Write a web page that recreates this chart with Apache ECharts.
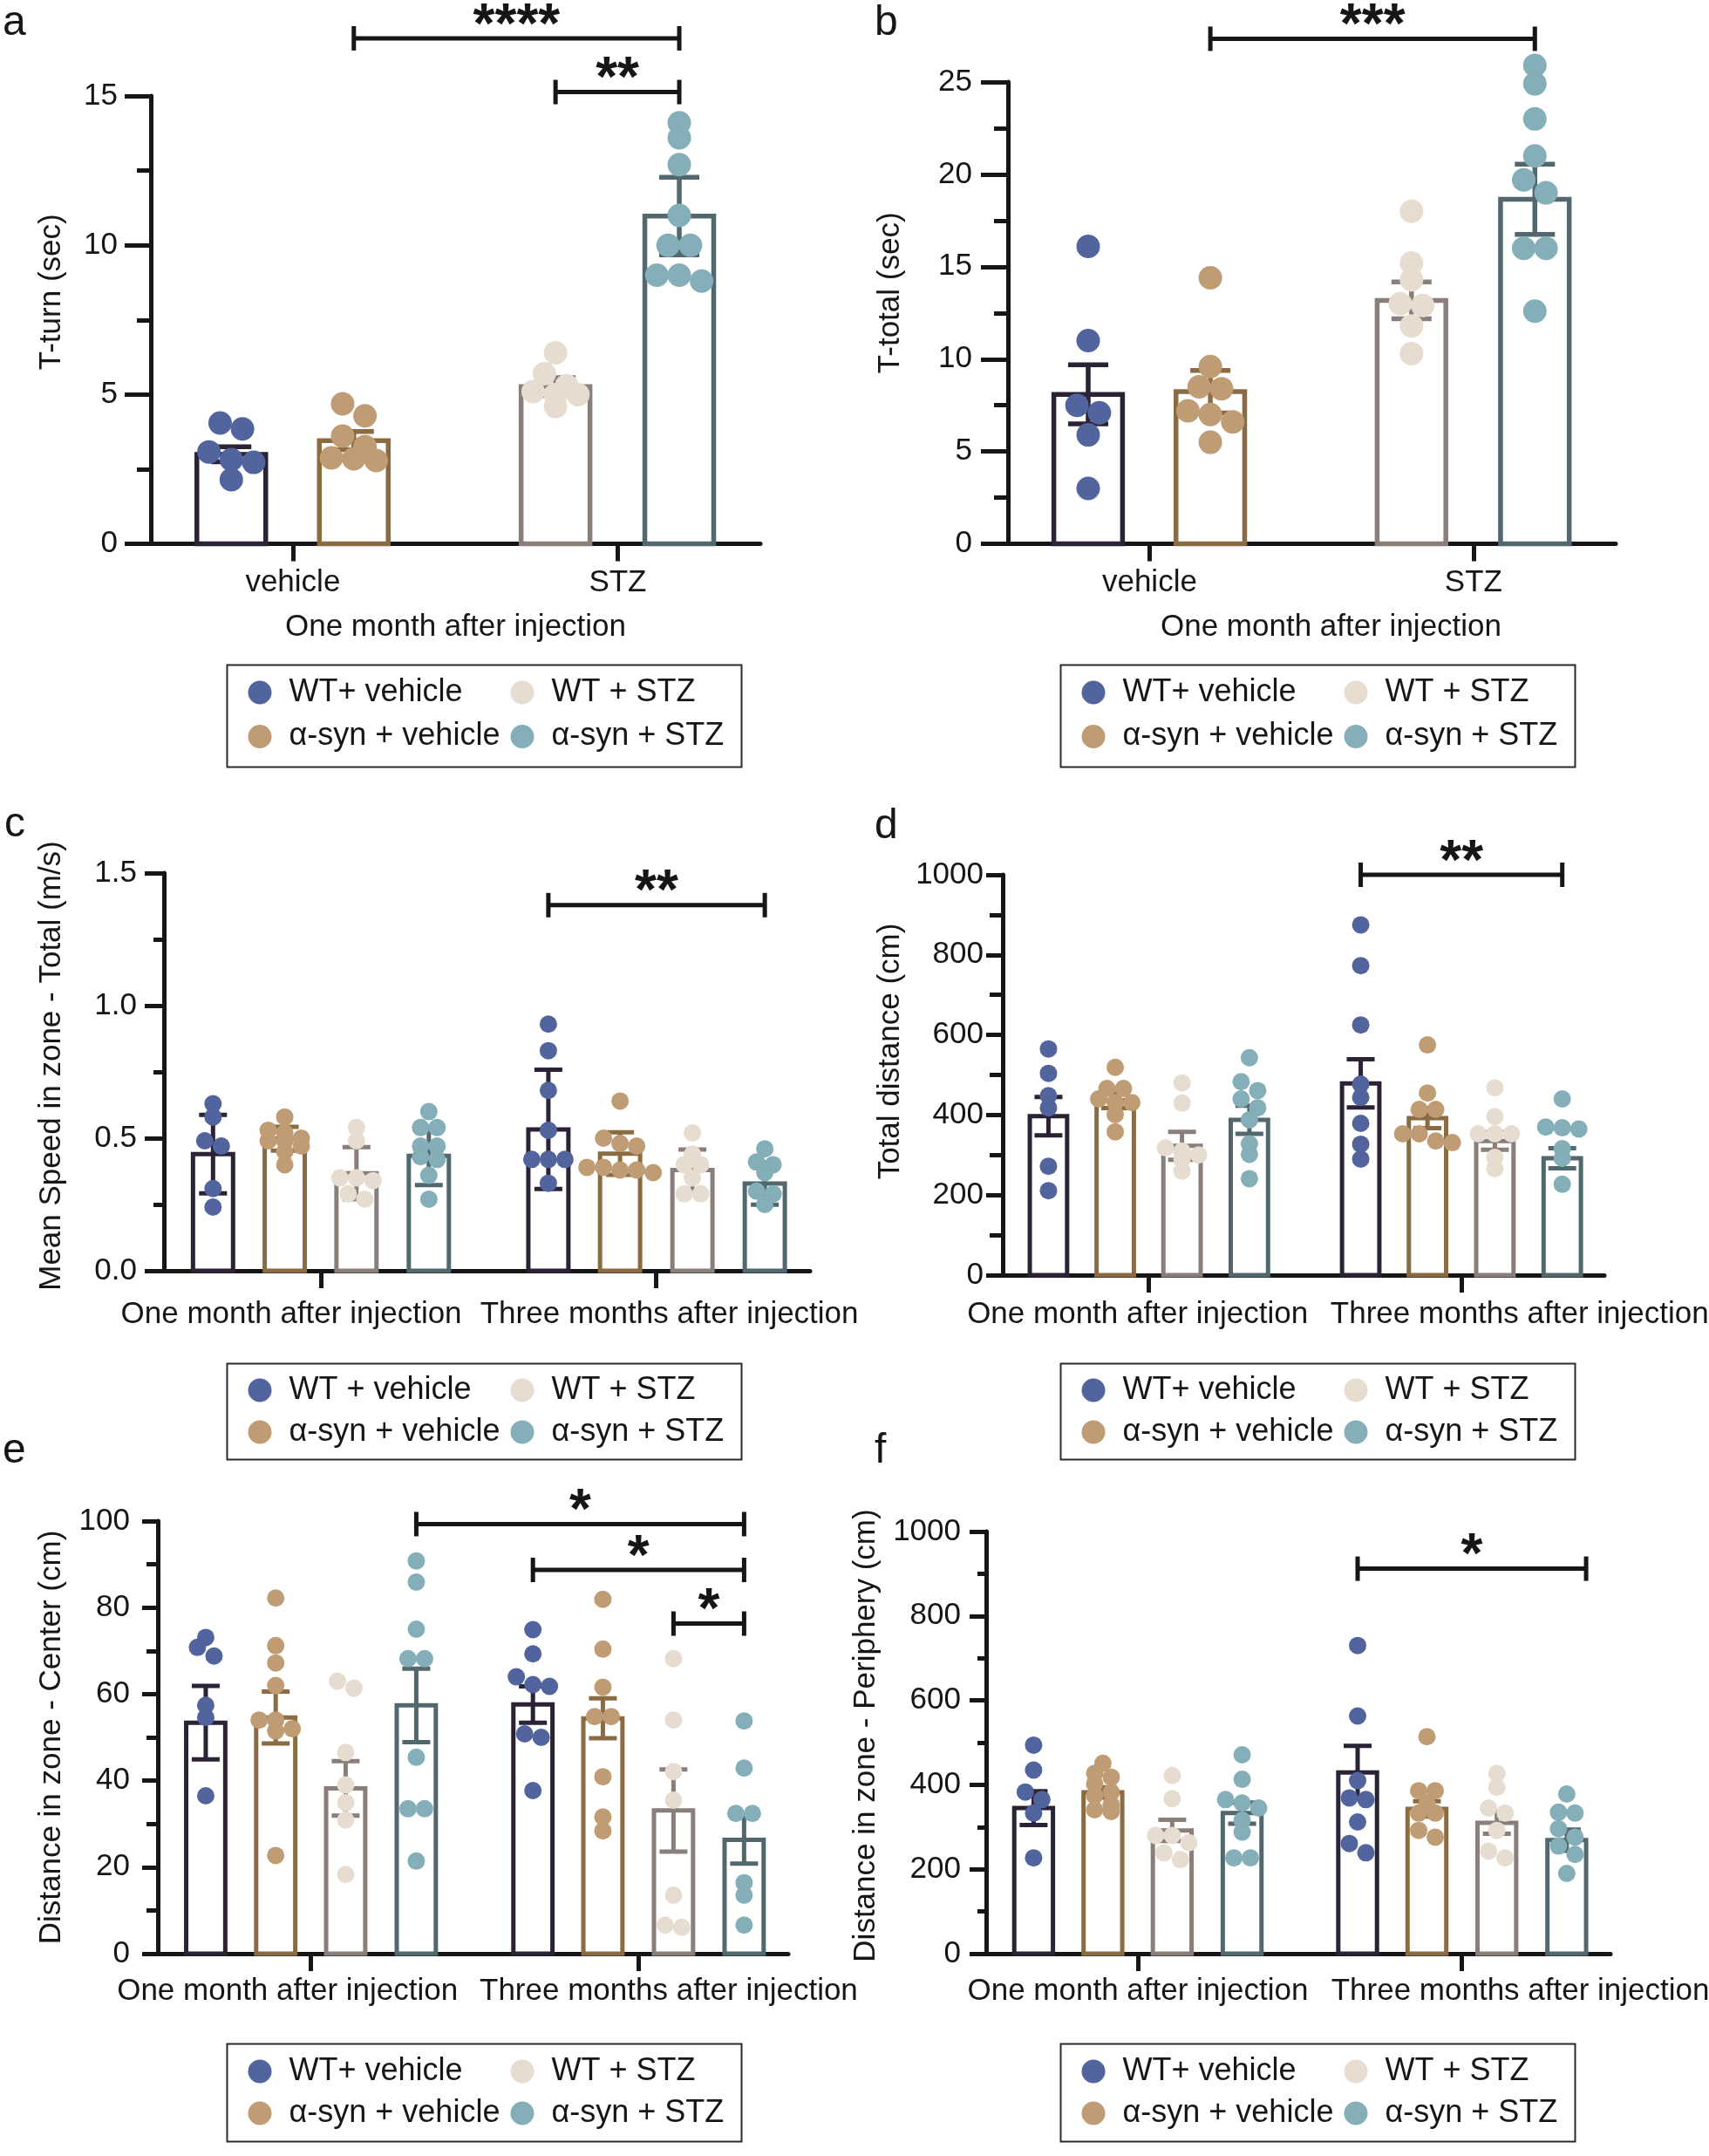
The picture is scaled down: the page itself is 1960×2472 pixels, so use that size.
<!DOCTYPE html>
<html><head><meta charset="utf-8">
<script src="https://cdn.jsdelivr.net/npm/echarts@6/dist/echarts.min.js"></script>
<style>html,body{margin:0;padding:0;background:#fff}#chart{width:1960px;height:2472px}</style>
</head><body><div id="chart"></div>
<script>
// ================= DATA =================
const groupNames  = ['WT+ vehicle', 'α-syn + vehicle', 'WT + STZ', 'α-syn + STZ'];
const groupNamesC = ['WT + vehicle', 'α-syn + vehicle', 'WT + STZ', 'α-syn + STZ'];
const abCategories = ['vehicle', 'STZ'];
const cfCategories = ['One month after injection', 'Three months after injection'];

// ---- a : T-turn (sec) ----
const aMean = [3.0, 3.46, 5.27, 10.98];
const aSEM  = [0.25, 0.3, 0.3, 1.3];
const aPoints = [
  [4.05, 3.85, 3.08, 2.73, 2.82, 2.15],
  [4.69, 4.29, 3.61, 3.26, 2.85, 2.88, 2.79],
  [6.4, 5.7, 5.3, 5.1, 5.0, 5.0, 4.6],
  [14.1, 13.6, 12.7, 11.0, 10.0, 10.0, 9.0, 8.8, 9.0]
];
const aBrackets = [[1, 3, 16.93], [2, 3, 15.13]];
const aStars = ['****', '**'];

// ---- b : T-total (sec) ----
const bMean = [8.09, 8.24, 13.18, 18.65];
const bSEM  = [1.6, 1.15, 1.0, 1.9];
const bPoints = [
  [16.1, 11.0, 7.1, 7.5, 5.9, 3.0],
  [14.4, 9.6, 8.5, 8.4, 7.2, 7.0, 6.6, 5.5],
  [18.0, 15.2, 14.3, 12.9, 13.0, 11.8, 10.3],
  [25.9, 24.9, 23.0, 21.0, 19.0, 19.7, 16.0, 16.0, 12.6]
];
const bBrackets = [[1, 3, 27.34]];
const bStars = ['***'];

// ---- c : Mean speed (m/s) ----
const cMeanOne = [0.44, 0.498, 0.368, 0.433];
const cErrOne  = [0.148, 0.045, 0.098, 0.11];
const cPointsOne = [
  [0.63, 0.58, 0.49, 0.47, 0.31, 0.24],
  [0.58, 0.53, 0.52, 0.50, 0.49, 0.49, 0.47, 0.45, 0.40],
  [0.54, 0.49, 0.35, 0.35, 0.34, 0.29, 0.27],
  [0.60, 0.54, 0.54, 0.47, 0.47, 0.43, 0.42, 0.36, 0.27]
];
const cMeanThree = [0.533, 0.442, 0.38, 0.329];
const cErrThree  = [0.225, 0.08, 0.077, 0.08];
const cPointsThree = [
  [0.93, 0.83, 0.68, 0.53, 0.42, 0.42, 0.42, 0.33],
  [0.64, 0.50, 0.48, 0.47, 0.39, 0.38, 0.38, 0.37, 0.39],
  [0.52, 0.44, 0.40, 0.40, 0.35, 0.29, 0.29],
  [0.46, 0.40, 0.41, 0.37, 0.30, 0.25, 0.29]
];
const cBrackets = [[4, 7, 1.379]];
const cStars = ['**'];

// ---- d : Total distance (cm) ----
const dMeanOne = [397, 437, 323, 388];
const dErrOne  = [48, 20, 35, 35];
const dPointsOne = [
  [565, 504, 448, 418, 272, 211],
  [519, 466, 466, 440, 431, 431, 401, 358],
  [480, 430, 318, 310, 300, 290, 260],
  [543, 483, 461, 440, 418, 388, 328, 302, 241]
];
const dMeanThree = [479, 392, 335, 292];
const dErrThree  = [60, 25, 22, 25];
const dPointsThree = [
  [875, 773, 625, 477, 444, 379, 327, 290],
  [575, 455, 414, 414, 353, 335, 331, 353],
  [468, 396, 353, 353, 353, 294, 266],
  [440, 370, 368, 365, 316, 292, 227]
];
const dBrackets = [[4, 7, 1000]];
const dStars = ['**'];

// ---- e : Distance in zone - Center (cm) ----
const eMeanOne = [53.4, 54.6, 38.2, 57.4];
const eErrOne  = [8.5, 6.0, 6.3, 8.5];
const ePointsOne = [
  [73.1, 68.8, 70.8, 57.4, 54.6, 36.5],
  [82.2, 71.2, 67.2, 62.0, 54.0, 54.0, 52.0, 51.5, 22.7],
  [61.4, 63.0, 46.5, 39.0, 34.9, 30.9, 18.3],
  [90.8, 85.9, 75.0, 68.2, 68.2, 45.4, 33.5, 33.5, 21.4]
];
const eMeanThree = [57.6, 54.4, 33.1, 26.3];
const eErrThree  = [4.2, 4.6, 9.5, 5.5];
const ePointsThree = [
  [74.9, 69.3, 64.0, 62.2, 61.8, 50.0, 50.8, 37.7],
  [81.9, 70.4, 61.6, 54.8, 54.8, 40.9, 31.6, 28.4],
  [68.2, 54.0, 42.1, 35.5, 13.5, 6.1, 6.6],
  [53.8, 42.9, 32.4, 32.4, 16.4, 13.5, 6.6]
];
const eBrackets = [[3, 7, 99.3], [4, 7, 88.7], [6, 7, 76.3]];
const eStars = ['*', '*', '*'];

// ---- f : Distance in zone - Periphery (cm) ----
const fMeanOne = [345, 382, 292, 333];
const fErrOne  = [40, 12, 25, 25];
const fPointsOne = [
  [494, 435, 383, 365, 333, 227],
  [451, 427, 418, 402, 382, 374, 353, 337, 341],
  [422, 367, 280, 280, 263, 239, 223],
  [471, 413, 357, 365, 345, 316, 288, 227, 227]
];
const fMeanThree = [429, 343, 310, 269];
const fErrThree  = [63, 18, 26, 25];
const fPointsThree = [
  [730, 563, 410, 369, 365, 312, 261, 239],
  [514, 386, 386, 357, 333, 333, 276, 292],
  [427, 394, 345, 333, 292, 227, 243],
  [378, 333, 335, 296, 276, 255, 235, 190]
];
const fBrackets = [[4, 7, 912]];
const fStars = ['*'];

// ================= STYLE / LAYOUT =================
const FONT = '"Liberation Sans", Arial, Helvetica, sans-serif';
const FS = 35;
const INK = '#161616';
const DOT  = ['#52649e', '#c09c74', '#e6dcd0', '#84aeb8'];
const EDGE = ['#2b2236', '#8a6b42', '#8a7e7b', '#52686e'];
const LAYOUTS = {
  ab: {bars: [0.132, 0.333, 0.664, 0.867], ticks: [0.233, 0.766], bw: 0.113, cap: 46, dotR: 13.5, lw: 5.5},
  cf: {bars: [0.076, 0.187, 0.298, 0.41, 0.595, 0.706, 0.818, 0.93], ticks: [0.243, 0.762], bw: 0.062, cap: 32, dotR: 10, lw: 5}
};

function barsAB(mean, sem, pts) {
  return [0, 1, 2, 3].map(g => ({g, mean: mean[g], sem: sem[g], pts: pts[g]}));
}
function barsCF(m1, s1, p1, m3, s3, p3) {
  const r = [];
  for (let g = 0; g < 4; g++) r.push({g, mean: m1[g], sem: s1[g], pts: p1[g]});
  for (let g = 0; g < 4; g++) r.push({g, mean: m3[g], sem: s3[g], pts: p3[g]});
  return r;
}
const intFmt = v => String(v);

const panels = [
  {letter: 'a', lx: 3, ly: 44, layout: 'ab', grid: [173, 110, 699, 513.6], yMax: 15, yInt: 5, yFmt: intFmt,
   yName: 'T-turn (sec)', yNameGap: 96, yNameUp: 32, xName: 'One month after injection', xNameGap: 78, xNameShift: 0,
   tickLen: 30, minorLen: 16, labelMargin: 38, catMargin: 27, cats: abCategories, catShift: [0, 0],
   names: groupNames, box: [258, 760, 590, 117], rows: [34, 84.5],
   bars: barsAB(aMean, aSEM, aPoints), brackets: aBrackets, stars: aStars},
  {letter: 'b', lx: 1003, ly: 44, layout: 'ab', grid: [1156, 94, 697, 529.6], yMax: 25, yInt: 5, yFmt: intFmt,
   yName: 'T-total (sec)', yNameGap: 117, yNameUp: 23, xName: 'One month after injection', xNameGap: 78, xNameShift: 22,
   tickLen: 31, minorLen: 16, labelMargin: 41, catMargin: 27, cats: abCategories, catShift: [0, 0],
   names: groupNames, box: [1214, 760, 590, 117], rows: [34, 84.5],
   bars: barsAB(bMean, bSEM, bPoints), brackets: bBrackets, stars: bStars},
  {letter: 'c', lx: 5, ly: 963, layout: 'cf', grid: [188, 1001, 741, 456], yMax: 1.5, yInt: 0.5, yFmt: v => v.toFixed(1),
   yName: 'Mean Speed in zone - Total (m/s)', yNameGap: 111, yNameUp: 7,
   tickLen: 22, minorLen: 12, labelMargin: 31, catMargin: 33, cats: cfCategories, catShift: [-34, 15],
   names: groupNamesC, box: [258, 1561, 590, 110], rows: [33, 81],
   bars: barsCF(cMeanOne, cErrOne, cPointsOne, cMeanThree, cErrThree, cPointsThree), brackets: cBrackets, stars: cStars},
  {letter: 'd', lx: 1003, ly: 965, layout: 'cf', grid: [1150, 1003, 690, 459], yMax: 1000, yInt: 200, yFmt: intFmt,
   yName: 'Total distance (cm)', yNameGap: 111, yNameUp: 27,
   tickLen: 19, minorLen: 15, labelMargin: 22, catMargin: 28, cats: cfCategories, catShift: [-13, 67],
   names: groupNames, box: [1214, 1561, 590, 110], rows: [33, 81],
   bars: barsCF(dMeanOne, dErrOne, dPointsOne, dMeanThree, dErrThree, dPointsThree), brackets: dBrackets, stars: dStars},
  {letter: 'e', lx: 3, ly: 1681, layout: 'cf', grid: [181, 1744, 723, 496], yMax: 100, yInt: 20, yFmt: intFmt,
   yName: 'Distance in zone - Center (cm)', yNameGap: 104, yNameUp: 0,
   tickLen: 18, minorLen: 13, labelMargin: 32, catMargin: 26, cats: cfCategories, catShift: [-27, 35],
   names: groupNames, box: [258, 2341, 590, 112], rows: [34, 82],
   bars: barsCF(eMeanOne, eErrOne, ePointsOne, eMeanThree, eErrThree, ePointsThree), brackets: eBrackets, stars: eStars},
  {letter: 'f', lx: 1003, ly: 1681, layout: 'cf', grid: [1131, 1756, 716, 484], yMax: 1000, yInt: 200, yFmt: intFmt,
   yName: 'Distance in zone - Periphery (cm)', yNameGap: 120, yNameUp: 8,
   tickLen: 19, minorLen: 10, labelMargin: 29, catMargin: 26, cats: cfCategories, catShift: [0, 67],
   names: groupNames, box: [1214, 2341, 590, 112], rows: [34, 82], brkShift: [0, 0.5],
   bars: barsCF(fMeanOne, fErrOne, fPointsOne, fMeanThree, fErrThree, fPointsThree), brackets: fBrackets, stars: fStars}
];

// ================= RENDERERS =================
function groupRender(P, L, g) {
  return function (params, api) {
    const b = P.bars[api.value(3)];
    const x = api.value(0), m = api.value(1), s = api.value(2);
    const base = api.coord([x, 0]);
    const top = api.coord([x, m]);
    const bwPx = api.size([L.bw, 0])[0];
    const cx = base[0];
    const ch = [];
    ch.push({type: 'rect', shape: {x: cx - bwPx / 2, y: top[1], width: bwPx, height: base[1] - top[1]},
      style: {fill: '#ffffff', stroke: EDGE[g], lineWidth: L.lw}});
    const hi = api.coord([x, m + s])[1], lo = api.coord([x, Math.max(0, m - s)])[1];
    const es = {stroke: EDGE[g], lineWidth: L.lw};
    ch.push({type: 'line', shape: {x1: cx, y1: lo, x2: cx, y2: hi}, style: es});
    ch.push({type: 'line', shape: {x1: cx - L.cap / 2, y1: hi, x2: cx + L.cap / 2, y2: hi}, style: es});
    ch.push({type: 'line', shape: {x1: cx - L.cap / 2, y1: lo, x2: cx + L.cap / 2, y2: lo}, style: es});
    // beeswarm-like spreading of the individual values
    const r = L.dotR, d = 2 * r;
    const pys = b.pts.map(v => api.coord([x, v])[1]);
    const order = pys.map((y, k) => k).sort((p, q) => pys[p] - pys[q]);
    const bins = []; let cur = null;
    order.forEach(k => {
      if (cur && pys[k] - pys[cur[0]] < d * 0.55) cur.push(k);
      else { cur = [k]; bins.push(cur); }
    });
    bins.forEach(bin => {
      const n = bin.length;
      bin.forEach((k, j) => {
        const off = (j - (n - 1) / 2) * d * 0.95;
        ch.push({type: 'circle', shape: {cx: cx + off, cy: pys[k], r: r}, style: {fill: DOT[g]}});
      });
    });
    return {type: 'group', children: ch};
  };
}
function bracketRender(P) {
  return function (params, api) {
    const p1 = api.coord([api.value(0), api.value(2)]);
    const p2 = api.coord([api.value(1), api.value(2)]);
    const k = api.value(3);
    const st = {stroke: INK, lineWidth: 5};
    const h = 14;
    return {type: 'group', children: [
      {type: 'line', shape: {x1: p1[0], y1: p1[1], x2: p2[0], y2: p2[1]}, style: st},
      {type: 'line', shape: {x1: p1[0], y1: p1[1] - h, x2: p1[0], y2: p1[1] + h}, style: st},
      {type: 'line', shape: {x1: p2[0], y1: p2[1] - h, x2: p2[0], y2: p2[1] + h}, style: st},
      {type: 'text', style: {text: P.stars[k], x: (p1[0] + p2[0]) / 2, y: p1[1] - 13,
        align: 'center', verticalAlign: 'middle', fontSize: 64, fontWeight: 'bold', fontFamily: FONT, fill: INK}}
    ]};
  };
}

// ================= OPTION =================
const option = {animation: false, backgroundColor: '#ffffff', grid: [], xAxis: [], yAxis: [], series: [], legend: [],
  graphic: {elements: []}};
const txt = {fontSize: FS, fontFamily: FONT, color: INK};

panels.forEach((P, idx) => {
  const L = LAYOUTS[P.layout];
  option.grid.push({left: P.grid[0], top: P.grid[1], width: P.grid[2], height: P.grid[3],
    containLabel: false, outerBoundsMode: 'none'});
  const rich = {};
  P.cats.forEach((c, i) => {
    const s = P.catShift[i];
    rich['c' + i] = {fontSize: FS, fontFamily: FONT, color: INK, padding: [0, s < 0 ? -2 * s : 0, 0, s > 0 ? 2 * s : 0]};
  });
  option.xAxis.push({
    type: 'value', gridIndex: idx, min: 0, max: 1, position: 'bottom',
    axisLine: {show: true, onZero: false, lineStyle: {color: INK, width: 5}},
    axisTick: {show: true, customValues: L.ticks, length: 20, lineStyle: {color: INK, width: 5}},
    axisLabel: {show: true, customValues: L.ticks, margin: P.catMargin, hideOverlap: false,
      formatter: v => {
        const i = Math.abs(v - L.ticks[0]) < Math.abs(v - L.ticks[1]) ? 0 : 1;
        return '{c' + i + '|' + P.cats[i] + '}';
      }, rich: rich, fontSize: FS, fontFamily: FONT, color: INK},
    splitLine: {show: false},
    name: P.xName || '', nameLocation: 'middle', nameGap: P.xNameGap || 0,
    nameTextStyle: Object.assign({}, txt, {padding: [0, 0, 0, 2 * (P.xNameShift || 0)]})
  });
  option.yAxis.push({
    type: 'value', gridIndex: idx, min: 0, max: P.yMax, interval: P.yInt, position: 'left',
    axisLine: {show: true, lineStyle: {color: INK, width: 5}},
    axisTick: {show: true, length: P.tickLen, lineStyle: {color: INK, width: 5}},
    minorTick: {show: true, splitNumber: 2, length: P.minorLen, lineStyle: {color: INK, width: 5}},
    axisLabel: Object.assign({margin: P.labelMargin, formatter: P.yFmt}, txt),
    splitLine: {show: false}, minorSplitLine: {show: false},
    name: P.yName, nameLocation: 'middle', nameGap: P.yNameGap, nameRotate: 90,
    nameTextStyle: Object.assign({}, txt, {padding: [0, 0, 0, 2 * P.yNameUp]})
  });
  for (let g = 0; g < 4; g++) {
    const data = [];
    P.bars.forEach((b, i) => { if (b.g === g) data.push([L.bars[i], b.mean, b.sem, i]); });
    option.series.push({
      type: 'custom', name: P.names[g], coordinateSystem: 'cartesian2d', xAxisIndex: idx, yAxisIndex: idx,
      clip: false, silent: true, itemStyle: {color: DOT[g]}, encode: {x: 0, y: 1},
      data: data, renderItem: groupRender(P, L, g)
    });
  }
  const sh = P.brkShift || [0, 0];
  option.series.push({
    type: 'custom', name: 'significance ' + P.letter, coordinateSystem: 'cartesian2d', xAxisIndex: idx, yAxisIndex: idx,
    clip: false, silent: true, encode: {x: [0, 1], y: 2}, z: 5,
    data: P.brackets.map((b, k) => [L.bars[b[0]] + sh[0] * L.bw, L.bars[b[1]] + sh[1] * L.bw, b[2], k]),
    renderItem: bracketRender(P)
  });
  const [bx, by, bw, bh] = P.box;
  const legendBase = {orient: 'vertical', icon: 'circle', itemWidth: 27, itemHeight: 27, padding: 0,
    itemGap: (P.rows[1] - P.rows[0]) - 36, selectedMode: false, top: by + P.rows[0] - 18,
    textStyle: {fontSize: 36, fontFamily: FONT, color: INK, lineHeight: 36, padding: [0, 0, 0, 15]}};
  option.legend.push(Object.assign({}, legendBase, {left: bx + 26.5, data: [P.names[0], P.names[1]]}));
  option.legend.push(Object.assign({}, legendBase, {left: bx + 327.5, data: [P.names[2], P.names[3]]}));
  option.graphic.elements.push({type: 'rect', left: bx, top: by, shape: {x: 0, y: 0, width: bw, height: bh},
    style: {fill: 'none', stroke: '#2a2a2a', lineWidth: 2}, silent: true});
  option.graphic.elements.push({type: 'text', x: P.lx, y: P.ly - 17,
    style: {text: P.letter, fontSize: 48, fontFamily: FONT, fill: INK, verticalAlign: 'middle', align: 'left'}});
});

const chart = echarts.init(document.getElementById('chart'), null, {renderer: 'canvas', width: 1960, height: 2472});
chart.setOption(option);
</script>
</body></html>
